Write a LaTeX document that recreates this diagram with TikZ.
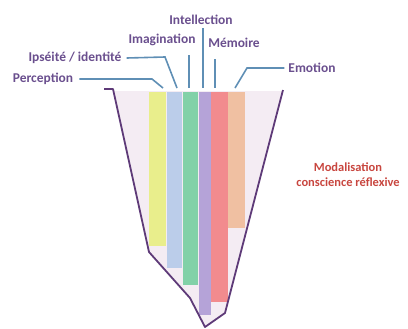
\documentclass[tikz,border=0pt]{standalone}
\usepackage{fontspec}
\setmainfont{Carlito}
\begin{document}
\begin{tikzpicture}[x=1bp,y=-1bp,
  lab/.style={font=\bfseries\fontsize{13.5}{15}\selectfont, text=labcol, inner sep=0pt},
  lead/.style={draw=leadcol, line width=1.6bp},
  bar/.style={line width=0pt}]
\definecolor{labcol}{HTML}{6A4F8E}
\definecolor{leadcol}{HTML}{5F8FB5}
\definecolor{outl}{HTML}{5E3A78}
\definecolor{funfill}{HTML}{F4ECF3}
\definecolor{cyel}{HTML}{E9EE8C}
\definecolor{cblu}{HTML}{BBCDEA}
\definecolor{cgrn}{HTML}{82D1A8}
\definecolor{cpur}{HTML}{B5A3D8}
\definecolor{cred}{HTML}{F28B8E}
\definecolor{cora}{HTML}{F0C0A2}
\definecolor{redtxt}{HTML}{C8463F}
\useasboundingbox (0,0) rectangle (408,329);
% funnel fill
\fill[funfill] (113,91) -- (283,91) -- (225,313) -- (205,327) -- (190,298) -- (149,252) -- cycle;
% bars
\fill[cyel] (149,92) rectangle (166,246);
\fill[cblu] (167,92) rectangle (182,268);
\fill[cgrn] (183,92) rectangle (198,285);
\fill[cpur] (199,92) rectangle (211,315);
\fill[cred] (211,92) rectangle (228,302);
\fill[cora] (228,92) rectangle (245,228);
% outline
\draw[outl, line width=1.8bp, line join=round] (104,89) -- (113,89) -- (149,252) -- (190,298) -- (205,327) -- (225,313) -- (283,90);
% bar tops
\coordinate (tp) at (163,88);
\coordinate (ti) at (177,88);
\coordinate (tim) at (189,88);
\coordinate (tin) at (203,88);
\coordinate (tm) at (215,88);
\coordinate (te) at (235,88);
% labels
\node[lab] (intel) at (201,20) {Intellection};
\node[lab] (imag) at (162,40) {Imagination};
\node[lab] (mem) at (234,43) {Mémoire};
\node[lab] (ips) at (75,58) {Ipséité / identité};
\node[lab] (emo) at (312,68) {Emotion};
\node[lab] (perc) at (43,79) {Perception};
\node[font=\bfseries\fontsize{12.5}{15}\selectfont, text=redtxt, align=center, inner sep=0pt] (modal) at (348,175) {Modalisation\\conscience réflexive};
% leaders
\draw[lead] ([xshift=6]perc.east) -- (152,79) -- (tp);
\draw[lead] ([xshift=5]ips.east) -- (165,57) -- (ti);
\draw[lead] (189,55) -- (tim);
\draw[lead] (203,28) -- (tin);
\draw[lead] (215,59) -- (tm);
\draw[lead] ([xshift=-4]emo.west) -- (247,68) -- (te);
\end{tikzpicture}
\end{document}
